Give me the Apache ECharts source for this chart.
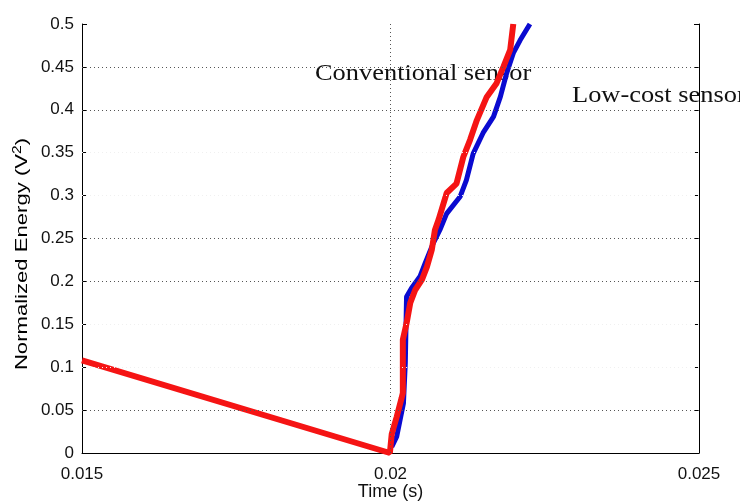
<!DOCTYPE html>
<html><head><meta charset="utf-8">
<script src="https://cdn.jsdelivr.net/npm/echarts@6/dist/echarts.min.js"></script>
<style>html,body{margin:0;padding:0;background:#fff;overflow:hidden}#c{width:740px;height:503px}</style>
</head><body><div id="c"></div>
<script>
// Conventional sensor (red) [time s, energy]
const redSeries = [[0.015,0.108],[0.01999,0.0],[0.02001,0.0],[0.02002,0.022],[0.0201,0.042],[0.02018,0.064],[0.0202,0.07],[0.0202,0.132],[0.02026,0.151],[0.02032,0.175],[0.0204,0.19],[0.02051,0.202],[0.02059,0.217],[0.02067,0.237],[0.02072,0.26],[0.02078,0.272],[0.02091,0.303],[0.02107,0.314],[0.02118,0.345],[0.02129,0.365],[0.0214,0.388],[0.02156,0.415],[0.02172,0.431],[0.02183,0.45],[0.02194,0.47],[0.02199,0.5]];
// Low-cost sensor (blue)
const blueSeries = [[0.02002,0.007],[0.0201,0.019],[0.02021,0.058],[0.02024,0.105],[0.02026,0.182],[0.02034,0.192],[0.02048,0.206],[0.02056,0.221],[0.02069,0.244],[0.0208,0.26],[0.02091,0.279],[0.02113,0.299],[0.02123,0.318],[0.02134,0.349],[0.0215,0.373],[0.02167,0.392],[0.02178,0.415],[0.02188,0.442],[0.02199,0.466],[0.0221,0.481],[0.02226,0.5]];
const gridYStrong = [0.05,0.2,0.25,0.4,0.45];
const gridYFaint = [0.1,0.15,0.3,0.35];
const gridX = [0.02];
const xTicks = [0.015,0.02,0.025];
const labelConventional = 'Conventional sensor';
const labelLowCost = 'Low-cost sensor';
const xTitle = 'Time (s)';
const yTitleMain = 'Normalized Energy (V';
const yTitleSup = '2';

const chart = echarts.init(document.getElementById('c'));
const sans = 'Liberation Sans, Arial, sans-serif';
const ml = [];
gridYStrong.forEach(v=>ml.push({yAxis:v,lineStyle:{color:'#555',type:[1,3],width:1}}));
gridYFaint.forEach(v=>ml.push({yAxis:v,lineStyle:{color:'#f0f0f0',type:[1,3],width:1}}));
gridX.forEach(v=>ml.push({xAxis:v,lineStyle:{color:'#555',type:[1,3],width:1}}));
chart.setOption({
  animation:false,
  grid:{left:82,right:41,top:24,bottom:50,containLabel:false,outerBoundsMode:'none'},
  xAxis:{type:'value',min:0.015,max:0.025,interval:0.005,
    name:xTitle,nameLocation:'middle',nameGap:30,nameMoveOverlap:false,
    nameTextStyle:{fontFamily:sans,fontSize:18,color:'#111'},
    axisLine:{lineStyle:{color:'#000',width:1}},
    axisTick:{inside:true,length:5,lineStyle:{color:'#000'}},
    axisLabel:{fontFamily:sans,fontSize:17,color:'#111',margin:13,
      formatter:v=>{const t=xTicks.find(x=>Math.abs(x-v)<1e-9);return t===undefined?'':String(t);}},
    splitLine:{show:false}},
  yAxis:[{type:'value',min:0,max:0.5,interval:0.05,
    axisLine:{show:true,lineStyle:{color:'#000',width:1}},
    axisTick:{inside:true,length:5,lineStyle:{color:'#000'}},
    axisLabel:{fontFamily:sans,fontSize:17,color:'#111',margin:8,
      formatter:v=>String(Math.round(v*100)/100)},
    splitLine:{show:false}},
   {type:'value',min:0,max:0.5,interval:0.05,position:'right',
    axisLine:{show:true,lineStyle:{color:'#000',width:1}},
    axisTick:{inside:true,length:5,lineStyle:{color:'#000'}},
    axisLabel:{show:false},splitLine:{show:false}}],
  series:[
    {type:'line',data:[],silent:true,markLine:{silent:true,symbol:'none',label:{show:false},data:ml}},
    {type:'line',name:'Low-cost',data:blueSeries,showSymbol:false,lineStyle:{color:'#0a0ad0',width:5},z:3},
    {type:'line',name:'Conventional',data:redSeries,showSymbol:false,lineStyle:{color:'#f51414',width:6},z:4}
  ],
  graphic:[
    {type:'text',x:22,y:254,rotation:Math.PI/2,scaleX:1.3,
     style:{text:'{m|'+yTitleMain+'}{s|'+yTitleSup+'}{m|)}',align:'center',verticalAlign:'middle',
       rich:{m:{fontFamily:sans,fontSize:17,color:'#111'},
             s:{fontFamily:sans,fontSize:12,color:'#111',padding:[0,0,9,0]}}}},
    {type:'text',x:315,y:74,scaleX:1.1,style:{text:labelConventional,font:'24px "Liberation Serif", serif',fill:'#111',align:'left',verticalAlign:'middle'}},
    {type:'text',x:572,y:96,scaleX:1.1,style:{text:labelLowCost,font:'24px "Liberation Serif", serif',fill:'#111',align:'left',verticalAlign:'middle'}}
  ]
});
</script></body></html>
